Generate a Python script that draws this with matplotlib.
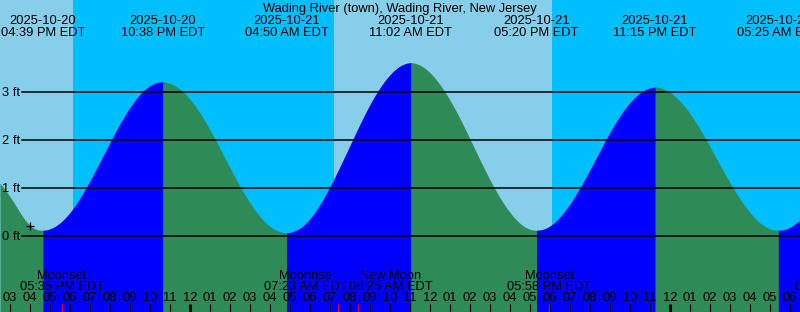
import numpy as np
import matplotlib
matplotlib.use("Agg")
import matplotlib.pyplot as plt

plt.rcParams['font.family'] = ['Liberation Sans', 'DejaVu Sans']

# hours relative to 2025-10-21 00:00 EDT, heights in ft
tide_hours = [-9.5, -9, -8, -7.35, -7, -6, -5, -4, -3, -2, -1.367, -1, 0, 1, 2, 3, 4,
              4.833, 6, 7, 8, 9, 10, 11.033, 12, 13, 14, 15, 16, 17, 17.333,
              18, 19, 20, 21, 22, 23.25, 24, 25, 26, 27, 28, 29, 29.417, 30, 30.5]
tide_ft = [1.10, 0.82, 0.22, 0.12, 0.15, 0.49, 1.15, 1.95, 2.68, 3.13, 3.21, 3.18, 2.85,
           2.21, 1.42, 0.69, 0.20, 0.07, 0.36, 1.03, 1.89, 2.74, 3.36, 3.61,
           3.40, 2.83, 2.02, 1.17, 0.49, 0.14, 0.12, 0.21, 0.67, 1.38, 2.16, 2.78,
           3.10, 2.99, 2.55, 1.86, 1.11, 0.49, 0.15, 0.12, 0.18, 0.33]

extreme_hours = [-7.35, -1.367, 4.833, 11.033, 17.333, 23.25, 29.417]
extreme_dates = ['2025-10-20', '2025-10-20', '2025-10-21', '2025-10-21',
                 '2025-10-21', '2025-10-21', '2025-10-22']
extreme_times = ['04:39 PM EDT', '10:38 PM EDT', '04:50 AM EDT', '11:02 AM EDT',
                 '05:20 PM EDT', '11:15 PM EDT', '05:25 AM EDT']

# sunset / sunrise boundaries
sun_hours = [-9.5, -5.85, 7.2, 18.08, 30.5]
sun_is_day = [True, False, True, False]

moon_hours = [-6.417, 7.383, 8.417, 17.967, 32.35]
moon_names = ['Moonset', 'Moonrise', 'New Moon', 'Moonset', 'Moonrise']
moon_times = ['05:35 PM EDT', '07:23 AM EDT', '08:25 AM EDT', '05:58 PM EDT', '08:21 AM EDT']
moon_shift = [0, -1.6, 1.63, 0, 0]   # label nudges so they don't collide

now_hour, now_ft = -8.0, 0.21
grid_ft = [0, 1, 2, 3]
title = 'Wading River (town), Wading River, New Jersey'

DAY, NIGHT = '#87ceeb', '#00bfff'
FLOOD, EBB = '#0000ff', '#2e8b57'
FS = 9.3


def spline(x, y, xs):
    # natural cubic spline, just for drawing a smooth line through the readings
    x = np.asarray(x, float); y = np.asarray(y, float)
    n = len(x); h = np.diff(x)
    A = np.zeros((n, n)); r = np.zeros(n)
    A[0, 0] = A[-1, -1] = 1
    for k in range(1, n - 1):
        A[k, k - 1] = h[k - 1]; A[k, k] = 2 * (h[k - 1] + h[k]); A[k, k + 1] = h[k]
        r[k] = 6 * ((y[k + 1] - y[k]) / h[k] - (y[k] - y[k - 1]) / h[k - 1])
    M = np.linalg.solve(A, r)
    i = np.clip(np.searchsorted(x, xs) - 1, 0, n - 2)
    a = x[i + 1] - xs; b = xs - x[i]; hi = h[i]
    return (M[i] * a**3 + M[i + 1] * b**3) / (6 * hi) \
        + (y[i] / hi - M[i] * hi / 6) * a + (y[i + 1] / hi - M[i + 1] * hi / 6) * b


x0, x1 = tide_hours[0], tide_hours[-1]
y0, y1 = -76 / 48, 236 / 48          # 48 px per foot, 0 ft at px 236

fig = plt.figure(figsize=(8, 3.12), dpi=100)
ax = fig.add_axes([0, 0, 1, 1])
ax.set_xlim(x0, x1)
ax.set_ylim(y0, y1)
ax.axis('off')

for a, b, day in zip(sun_hours[:-1], sun_hours[1:], sun_is_day):
    ax.axvspan(a, b, color=DAY if day else NIGHT, lw=0, zorder=0, antialiased=False)

bounds = [x0] + extreme_hours + [x1]
for a, b in zip(bounds[:-1], bounds[1:]):
    # small overlap so no seam shows between flood and ebb
    xs = np.linspace(a, min(b + 0.05, x1), 300)
    ys = spline(tide_hours, tide_ft, xs)
    rising = spline(tide_hours, tide_ft, np.array([b]))[0] > ys[0]
    ax.fill_between(xs, ys, y0, color=FLOOD if rising else EBB, lw=0, zorder=1,
                    antialiased=False)

for g in grid_ft:
    ax.axhline(g, xmin=22 / 800, xmax=1, color='black', lw=1.1, zorder=2)
    ax.text(x0 + 0.1, g - 4 / 48, f'{g} ft', fontsize=FS, ha='left', va='baseline', zorder=3)

ax.plot(now_hour, now_ft, marker='+', color='black', ms=6, mew=0.9, zorder=4)

ax.text((x0 + x1) / 2, (236 - 12) / 48, title, fontsize=FS, ha='center', va='baseline')
for hx, d, t in zip(extreme_hours, extreme_dates, extreme_times):
    ax.text(hx, (236 - 24) / 48, d, fontsize=FS, ha='center', va='baseline')
    ax.text(hx, (236 - 36) / 48, t, fontsize=FS, ha='center', va='baseline')

for hx, n, t, s in zip(moon_hours, moon_names, moon_times, moon_shift):
    ax.text(hx + s, (236 - 279) / 48, n, fontsize=FS, ha='center', va='baseline')
    ax.text(hx + s, (236 - 290) / 48, t, fontsize=FS, ha='center', va='baseline')
    ax.vlines(hx, (236 - 304) / 48, y0, color='red', lw=0.8, zorder=3)

for hr in range(int(np.ceil(x0)), int(np.floor(x1)) + 1):
    clock = (hr % 12) or 12
    ax.text(hr, (236 - 301) / 48, f'{clock:02d}', fontsize=FS, ha='center', va='baseline')
    ax.vlines(hr, (236 - 304) / 48, y0, color='black',
              lw=2.2 if hr % 24 == 0 else 0.8, zorder=3)

fig.savefig('out.png', dpi=100)
